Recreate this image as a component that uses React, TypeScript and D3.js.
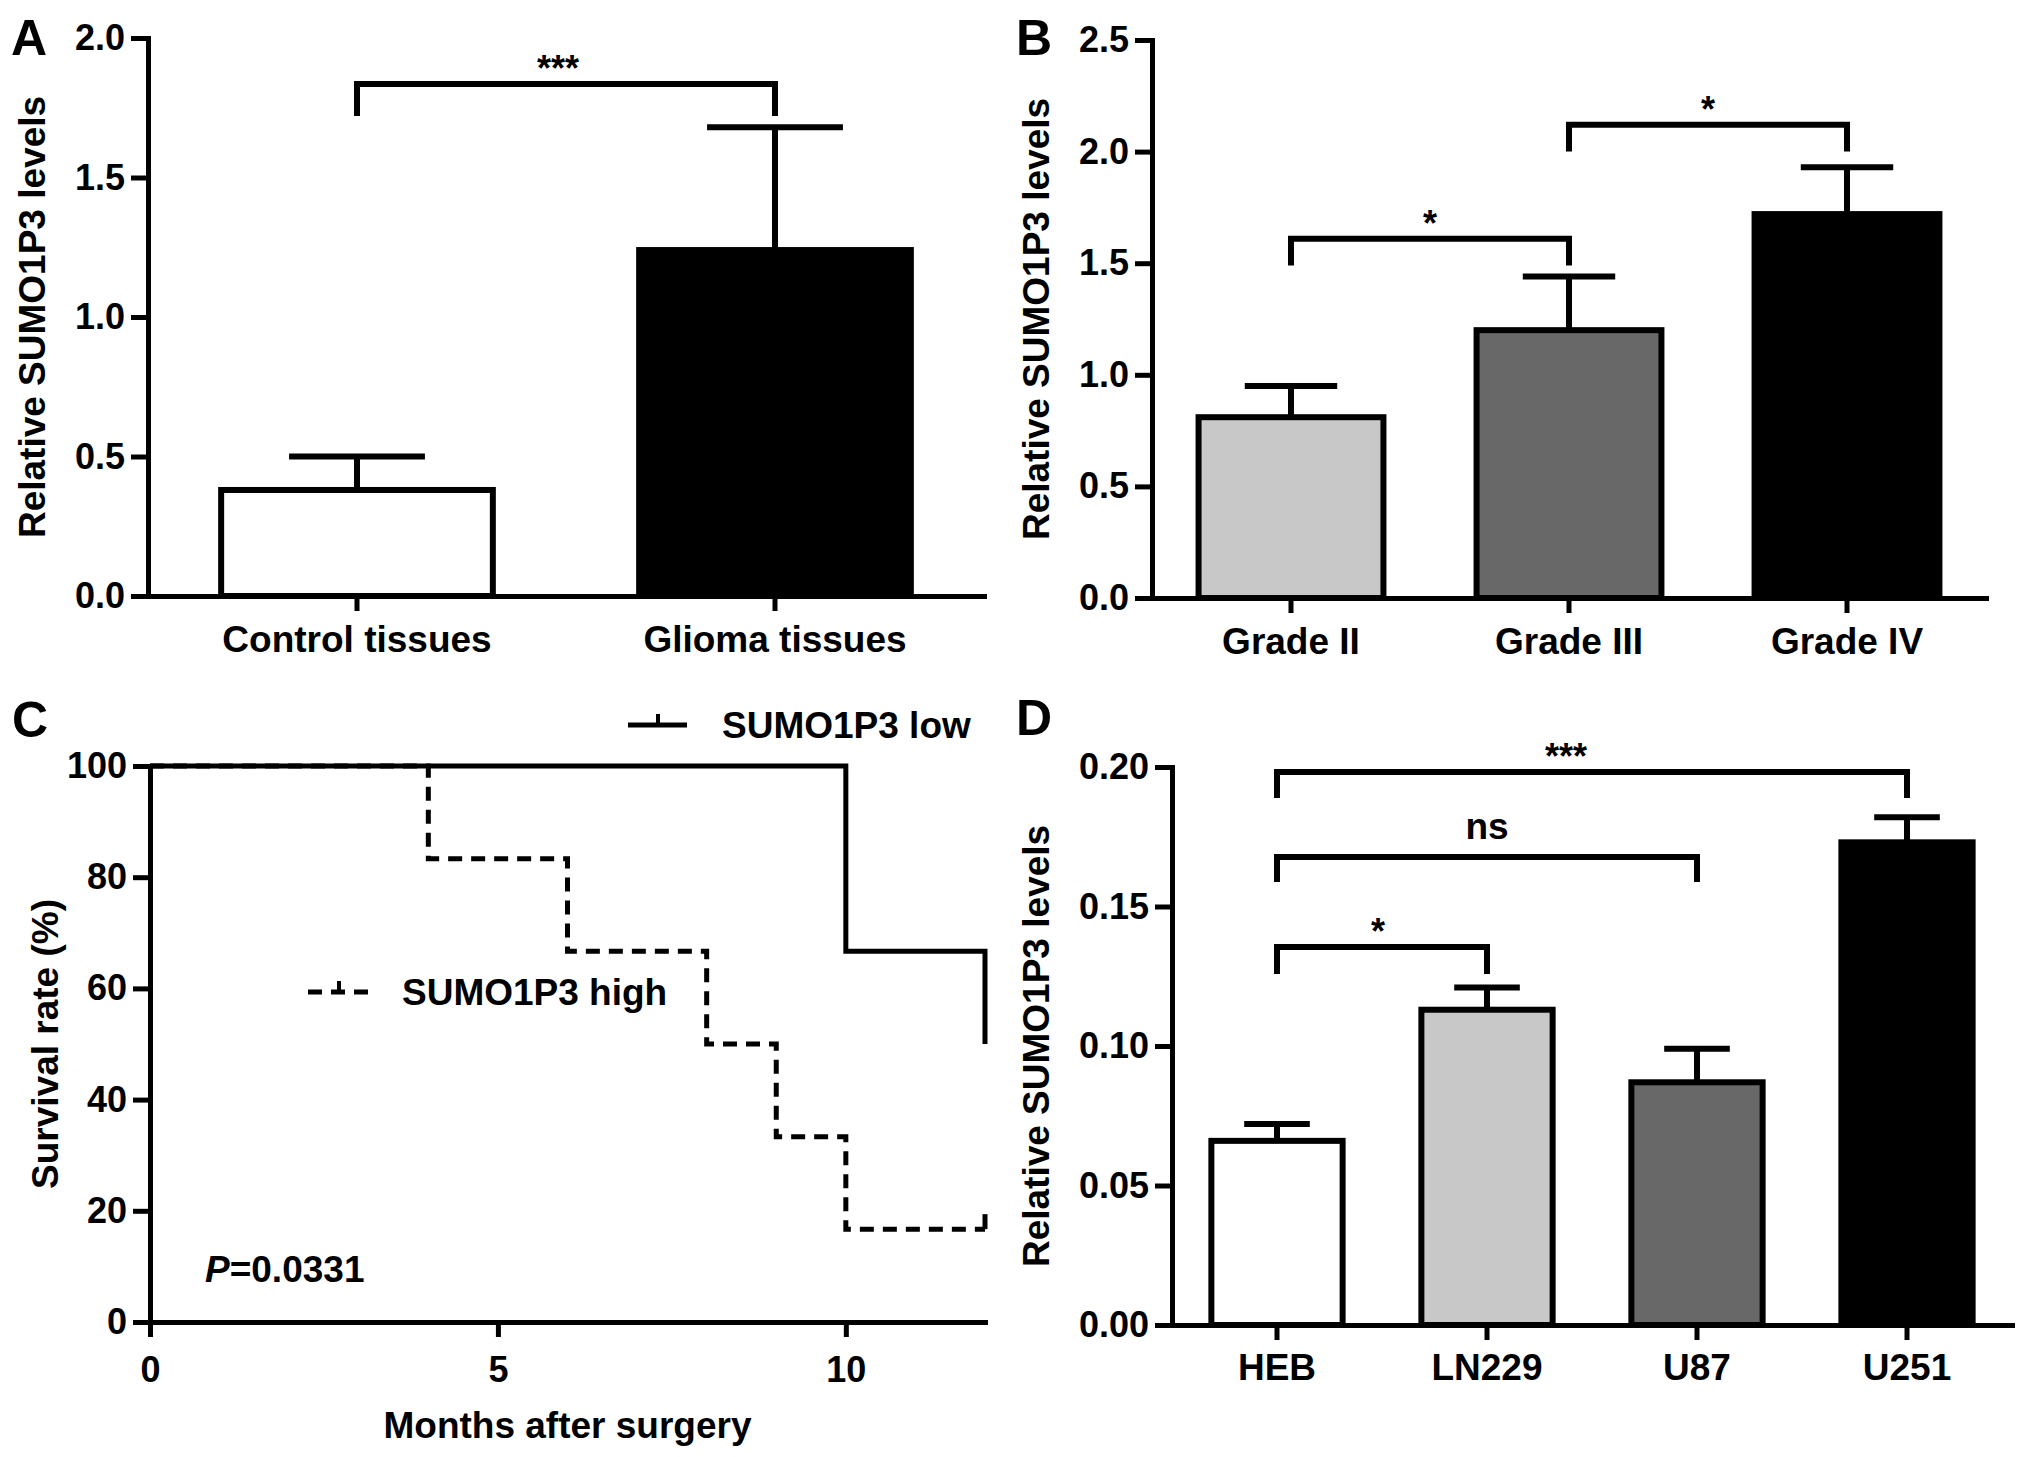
import React, { useEffect, useRef } from 'react'
import * as d3 from 'd3'

const W = 2031
const H = 1457
const FONT = '"Liberation Sans", Arial, Helvetica, sans-serif'

// A: tissues
const tissueGroups = ['Control tissues', 'Glioma tissues']
const tissueMeans = [0.38, 1.24]
const tissueErrors = [0.12, 0.44]
const tissueSig = [{ a: 0, b: 1, level: 1.835, tip: 1.72, label: '***', dx: -8 }]

// B: grades
const gradeGroups = ['Grade II', 'Grade III', 'Grade IV']
const gradeMeans = [0.81, 1.2, 1.72]
const gradeErrors = [0.14, 0.24, 0.21]
const gradeSig = [
  { a: 0, b: 1, level: 1.61, tip: 1.49, label: '*', dx: 0 },
  { a: 1, b: 2, level: 2.12, tip: 2.0, label: '*', dx: 0 }
]

// C: survival (months, %)
const lowMonths = [0, 10, 12]
const lowSurvival = [100, 66.7, 50]
const highMonths = [0, 4, 6, 8, 9, 10, 12]
const highSurvival = [100, 83.3, 66.7, 50, 33.3, 16.7, 16.7]
const survivalTicksX = [0, 5, 10]
const survivalTicksY = [0, 20, 40, 60, 80, 100]

// D: cell lines
const cellLines = ['HEB', 'LN229', 'U87', 'U251']
const cellMeans = [0.066, 0.113, 0.087, 0.173]
const cellErrors = [0.006, 0.008, 0.012, 0.009]
const cellSig = [
  { a: 0, b: 1, level: 0.1355, tip: 0.1258, label: '*', dx: -4 },
  { a: 0, b: 2, level: 0.1677, tip: 0.1588, label: 'ns', dx: 0 },
  { a: 0, b: 3, level: 0.1982, tip: 0.1889, label: '***', dx: -26 }
]

const LIGHT = '#c8c8c8'
const DARK = '#686868'

function styleAxis(g, size) {
  g.attr('font-size', size).attr('font-family', FONT).attr('font-weight', 'bold')
  g.selectAll('text').attr('fill', '#000')
  g.selectAll('line').attr('stroke', '#000').attr('stroke-width', 5)
  g.select('.domain').attr('stroke', '#000').attr('stroke-width', 5).attr('stroke-linecap', 'square')
}

function label(svg, text, x, y, size = 37, rotate = false) {
  const t = svg
    .append('text')
    .attr('font-family', FONT)
    .attr('font-weight', 'bold')
    .attr('font-size', size)
    .attr('text-anchor', rotate ? 'middle' : 'start')
    .text(text)
  if (rotate) t.attr('transform', `translate(${x},${y}) rotate(-90)`)
  else t.attr('x', x).attr('y', y)
  return t
}

function barPanel(svg, cfg) {
  const g = svg.append('g')
  const x = d3
    .scaleBand()
    .domain(cfg.cats)
    .range([cfg.left, cfg.right])
    .paddingInner(cfg.pad)
    .paddingOuter(cfg.pad / 2)
  const y = d3.scaleLinear().domain([0, cfg.max]).range([cfg.bottom, cfg.top])
  const bw = x.bandwidth()
  const cx = i => x(cfg.cats[i]) + bw / 2

  // error bars (upper only)
  cfg.cats.forEach((c, i) => {
    const top = y(cfg.means[i] + cfg.errs[i])
    g.append('line')
      .attr('x1', cx(i)).attr('x2', cx(i))
      .attr('y1', y(cfg.means[i])).attr('y2', top)
      .attr('stroke', '#000').attr('stroke-width', 6)
    g.append('line')
      .attr('x1', cx(i) - bw / 4).attr('x2', cx(i) + bw / 4)
      .attr('y1', top).attr('y2', top)
      .attr('stroke', '#000').attr('stroke-width', 6)
  })

  g.selectAll('rect.bar')
    .data(cfg.cats)
    .enter()
    .append('rect')
    .attr('class', 'bar')
    .attr('x', d => x(d))
    .attr('width', bw)
    .attr('y', (d, i) => y(cfg.means[i]))
    .attr('height', (d, i) => y(0) - y(cfg.means[i]))
    .attr('fill', (d, i) => cfg.fills[i])
    .attr('stroke', '#000')
    .attr('stroke-width', 6)

  // significance brackets
  cfg.sig.forEach(s => {
    const xa = cx(s.a)
    const xb = cx(s.b)
    g.append('path')
      .attr('d', `M${xa},${y(s.tip)}V${y(s.level)}H${xb}V${y(s.tip)}`)
      .attr('fill', 'none')
      .attr('stroke', '#000')
      .attr('stroke-width', 6)
    g.append('text')
      .attr('x', (xa + xb) / 2 + s.dx)
      .attr('y', y(s.level) - (s.label === 'ns' ? 18 : 3))
      .attr('text-anchor', 'middle')
      .attr('font-family', FONT)
      .attr('font-weight', 'bold')
      .attr('font-size', s.label === 'ns' ? 37 : 36)
      .text(s.label)
  })

  const yAxis = d3
    .axisLeft(y)
    .tickValues(d3.range(0, cfg.max + 1e-9, cfg.step))
    .tickFormat(d3.format(cfg.fmt))
    .tickSize(17)
    .tickPadding(6)
    .tickSizeOuter(0)
  const ya = g.append('g').attr('transform', `translate(${cfg.left},0)`).call(yAxis)
  styleAxis(ya, 36)

  const xAxis = d3.axisBottom(x).tickSize(15).tickPadding(cfg.xpad).tickSizeOuter(0)
  const xa = g.append('g').attr('transform', `translate(0,${cfg.bottom})`).call(xAxis)
  styleAxis(xa, 37)

  label(svg, 'Relative SUMO1P3 levels', cfg.ylabelX, (cfg.top + cfg.bottom) / 2, 37, true)
  label(svg, cfg.letter, cfg.letterX, cfg.letterY, 50)
}

function survivalPanel(svg) {
  const g = svg.append('g')
  const x = d3.scaleLinear().domain([0, 12]).range([150, 985])
  const y = d3.scaleLinear().domain([0, 100]).range([1322, 766])
  const line = d3
    .line()
    .x(d => x(d[0]))
    .y(d => y(d[1]))
    .curve(d3.curveStepAfter)

  const high = highMonths.map((m, i) => [m, highSurvival[i]])
  const low = lowMonths.map((m, i) => [m, lowSurvival[i]])

  g.append('path')
    .attr('d', line(high))
    .attr('fill', 'none')
    .attr('stroke', '#000')
    .attr('stroke-width', 5)
    .attr('stroke-dasharray', '14,9')
  // censor mark at end of high curve
  const last = high[high.length - 1]
  g.append('line')
    .attr('x1', x(last[0])).attr('x2', x(last[0]))
    .attr('y1', y(last[1])).attr('y2', y(last[1]) - 15)
    .attr('stroke', '#000').attr('stroke-width', 5)

  g.append('path')
    .attr('d', line(low))
    .attr('fill', 'none')
    .attr('stroke', '#000')
    .attr('stroke-width', 5)

  const yAxis = d3
    .axisLeft(y)
    .tickValues(survivalTicksY)
    .tickFormat(d3.format('d'))
    .tickSize(17)
    .tickPadding(6)
    .tickSizeOuter(0)
  const ya = g.append('g').attr('transform', `translate(${x(0)},0)`).call(yAxis)
  styleAxis(ya, 36)

  const xAxis = d3
    .axisBottom(x)
    .tickValues(survivalTicksX)
    .tickFormat(d3.format('d'))
    .tickSize(15)
    .tickPadding(19)
    .tickSizeOuter(0)
  const xa = g.append('g').attr('transform', `translate(0,${y(0)})`).call(xAxis)
  styleAxis(xa, 36)

  // legend: low
  g.append('line').attr('x1', 628).attr('x2', 687).attr('y1', 725).attr('y2', 725)
    .attr('stroke', '#000').attr('stroke-width', 5)
  g.append('line').attr('x1', 658).attr('x2', 658).attr('y1', 714).attr('y2', 725)
    .attr('stroke', '#000').attr('stroke-width', 4)
  label(svg, 'SUMO1P3 low', 722, 738)

  // legend: high
  g.append('line').attr('x1', 308).attr('x2', 369).attr('y1', 992).attr('y2', 992)
    .attr('stroke', '#000').attr('stroke-width', 5).attr('stroke-dasharray', '14,9')
  g.append('line').attr('x1', 339).attr('x2', 339).attr('y1', 981).attr('y2', 992)
    .attr('stroke', '#000').attr('stroke-width', 4)
  label(svg, 'SUMO1P3 high', 402, 1005)

  const p = label(svg, '', 205, 1282)
  p.append('tspan').attr('font-style', 'italic').text('P')
  p.append('tspan').text('=0.0331')

  label(svg, 'Months after surgery', (x(0) + x(12)) / 2, 1438).attr('text-anchor', 'middle')
  label(svg, 'Survival rate (%)', 58, (y(0) + y(100)) / 2, 37, true)
  label(svg, 'C', 12, 737, 50)
}

function Figure() {
  const ref = useRef(null)

  useEffect(() => {
    const svg = d3.select(ref.current)
    svg.selectAll('*').remove()

    barPanel(svg, {
      cats: tissueGroups, means: tissueMeans, errs: tissueErrors, sig: tissueSig,
      fills: ['#ffffff', '#000000'],
      left: 148, right: 984, top: 38, bottom: 596, max: 2, step: 0.5, fmt: '.1f',
      pad: 0.35, xpad: 15, ylabelX: 45, letter: 'A', letterX: 11, letterY: 55
    })
    barPanel(svg, {
      cats: gradeGroups, means: gradeMeans, errs: gradeErrors, sig: gradeSig,
      fills: [LIGHT, DARK, '#000000'],
      left: 1152, right: 1986, top: 40, bottom: 598, max: 2.5, step: 0.5, fmt: '.1f',
      pad: 0.335, xpad: 15, ylabelX: 1049, letter: 'B', letterX: 1016, letterY: 55
    })
    survivalPanel(svg)
    barPanel(svg, {
      cats: cellLines, means: cellMeans, errs: cellErrors, sig: cellSig,
      fills: ['#ffffff', LIGHT, DARK, '#000000'],
      left: 1172, right: 2012, top: 767, bottom: 1325, max: 0.2, step: 0.05, fmt: '.2f',
      pad: 0.375, xpad: 14, ylabelX: 1049, letter: 'D', letterX: 1016, letterY: 735
    })
  }, [])

  return (
    <svg
      ref={ref}
      width={W}
      height={H}
      style={{ position: 'absolute', left: 0, top: 0, background: '#fff' }}
    />
  )
}

export default function App() {
  return <Figure />
}
